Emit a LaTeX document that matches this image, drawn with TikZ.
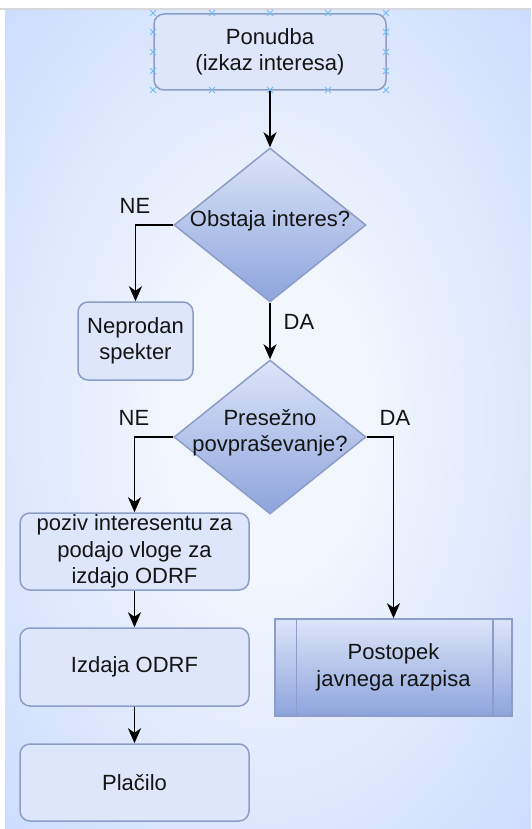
\documentclass[tikz,border=0pt]{standalone}
\usepackage{fontspec}
\setmainfont{Liberation Sans}
\usetikzlibrary{arrows.meta,shapes.geometric}
\definecolor{bgout}{HTML}{C2D6FE}
\definecolor{bgin}{HTML}{F2F6FD}
\definecolor{boxfill}{HTML}{DDE6FA}
\definecolor{boxline}{HTML}{8C9DC8}
\definecolor{gradtop}{HTML}{DCE5F9}
\definecolor{gradbot}{HTML}{8DA4DC}
\definecolor{handle}{HTML}{72BEF0}
\definecolor{topline}{HTML}{D6D8DC}
\pgfdeclareradialshading{bgshade}{\pgfpoint{0bp}{0bp}}{color(0bp)=(bgin); color(10bp)=(bgin); color(42bp)=(bgout); color(75bp)=(bgout)}
\begin{document}
\begin{tikzpicture}[x=1pt,y=-1pt,
  txt/.style={font=\fontsize{22}{26.5}\selectfont, align=center, text=black!92},
  rbox/.style={txt, draw=boxline, line width=1.5pt, fill=boxfill, rounded corners=10pt, inner sep=0pt},
  dia/.style={diamond, draw=boxline, line width=1.5pt, top color=gradtop, bottom color=gradbot, minimum width=192pt, minimum height=154pt, inner sep=0pt},
  pbox/.style={txt, draw=boxline, line width=1.5pt, top color=gradtop, bottom color=gradbot, inner sep=0pt},
  flow/.style={line width=1.8pt, draw=black, -{Stealth[length=15pt,width=13pt,inset=4.5pt]}},
  lbl/.style={font=\fontsize{22}{26.5}\selectfont, text=black!92},
  handlemark/.style={draw=handle, line width=0.9pt}]
\useasboundingbox (0,0) rectangle (531,829);
% background
\fill[white] (0,0) rectangle (531,829);
\fill[topline] (0,8) rectangle (531,10.5);
\shade[shading=bgshade] (5,10.5) rectangle (531,829);

% nodes
\node[rbox, minimum width=232pt, minimum height=76pt] (pon) at (270,52) {Ponudba\\(izkaz interesa)};
\node[dia] (d1) at (270,225) {};
\node[txt] (d1t) at (270,221) {Obstaja interes?};
\node[rbox, minimum width=115pt, minimum height=78pt] (nep) at (135.5,341) {Neprodan\\spekter};
\node[dia] (d2) at (270,437) {};
\node[txt] (d2t) at (270,433) {Presežno\\povpraševanje?};
\node[rbox, minimum width=229pt, minimum height=77pt] (poz) at (134.5,551.5) {poziv interesentu za\\podajo vloge za\\izdajo ODRF};
\node[rbox, minimum width=229pt, minimum height=78pt] (izd) at (134.5,667) {Izdaja ODRF};
\node[rbox, minimum width=229pt, minimum height=77pt] (pla) at (134.5,782.5) {Plačilo};
\node[pbox, minimum width=237pt, minimum height=97pt] (post) at (393.5,667.5) {Postopek\\javnega razpisa};
\draw[boxline, line width=1.5pt] ([xshift=22pt]post.north west) -- ([xshift=22pt]post.south west);
\draw[boxline, line width=1.5pt] ([xshift=-20pt]post.north east) -- ([xshift=-20pt]post.south east);

% selection handles
\foreach \hx in {153,212,270,328,386}{
  \foreach \hy in {13,90}{
    \draw[handlemark] (\hx-3,\hy-3) -- (\hx+3,\hy+3) (\hx-3,\hy+3) -- (\hx+3,\hy-3);
  }
}
\foreach \hy in {32,52,71}{
  \foreach \hx in {153,386}{
    \draw[handlemark] (\hx-3,\hy-3) -- (\hx+3,\hy+3) (\hx-3,\hy+3) -- (\hx+3,\hy-3);
  }
}

% connectors
\draw[flow] (pon.south) -- (d1.north);
\draw[flow] (d1.west) -| (nep.north);
\draw[flow] (d1.south) -- (d2.north);
\draw[flow] (d2.west) -| (poz.north);
\draw[flow] (d2.east) -| (post.north);
\draw[flow] (poz.south) -- (izd.north);
\draw[flow] (izd.south) -- (pla.north);

% labels
\node[lbl] (ne1) at (135,206) {NE};
\node[lbl] (da1) at (299,322) {DA};
\node[lbl] (ne2) at (134,418) {NE};
\node[lbl] (da2) at (395,418) {DA};
\end{tikzpicture}
\end{document}
